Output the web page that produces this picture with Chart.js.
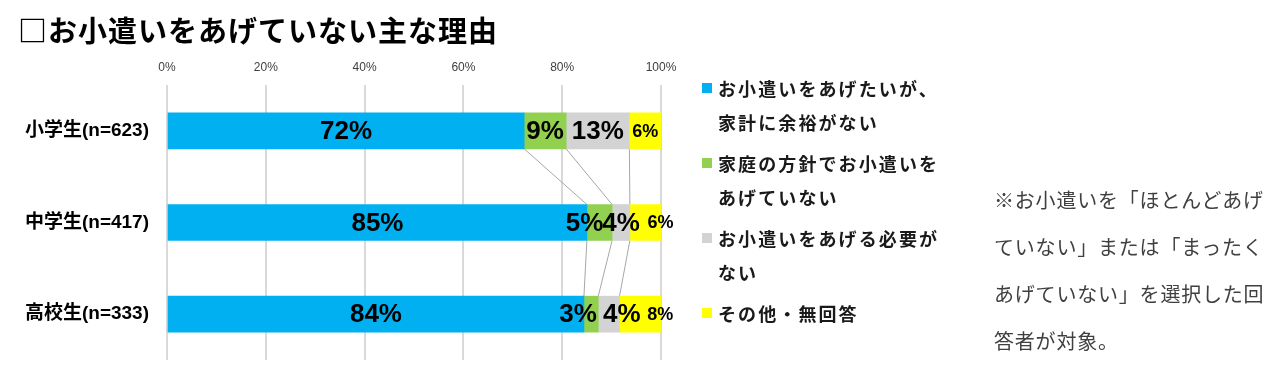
<!DOCTYPE html>
<html lang="ja">
<head>
<meta charset="utf-8">
<script src="https://cdn.jsdelivr.net/npm/chart.js@4"></script>
<style>
  html, body { margin: 0; padding: 0; background: #fff; }
  #wrap { position: relative; width: 1280px; height: 378px; overflow: hidden; }
  #c { position: absolute; left: 0; top: 0; }
  #title { position: absolute; left: 18px; top: 9px; font: bold 29px "Noto Sans CJK JP", sans-serif; letter-spacing: 1px; color: #000; white-space: nowrap; line-height: 40px; }
  #legend { position: absolute; left: 702px; top: 71px; font: bold 18px "Noto Sans CJK JP", sans-serif; letter-spacing: 2.1px; color: #1a1a1a; }
  #legend .item { position: relative; padding-left: 16px; line-height: 34px; margin-bottom: 7px; white-space: pre-line; }
  #legend .sw { position: absolute; left: 0; top: 12px; width: 10px; height: 10px; }
  #note { position: absolute; left: 994px; top: 176px; width: 290px; font: 20px "Noto Sans CJK JP", sans-serif; letter-spacing: 0.8px; line-height: 47px; color: #404040; }
</style>
</head>
<body>
<div id="wrap">
  <canvas id="c" width="1280" height="378"></canvas>
  <div id="title">□お小遣いをあげていない主な理由</div>
  <div id="legend"></div>
  <div id="note">※お小遣いを「ほとんどあげていない」または「まったくあげていない」を選択した回答者が対象。</div>
</div>
<script>
// ---- data ----
const categories = ["小学生(n=623)", "中学生(n=417)", "高校生(n=333)"];
const seriesNames = ["お小遣いをあげたいが、\n家計に余裕がない", "家庭の方針でお小遣いを\nあげていない", "お小遣いをあげる必要が\nない", "その他・無回答"];
const noMoney   = [72.3, 85.0, 84.4];
const policy    = [8.5, 5.1, 2.9];
const noNeed    = [12.8, 3.6, 4.3];
const otherNA   = [6.4, 6.3, 8.4];
const tickValues = [0, 20, 40, 60, 80, 100];

// ---- styles ----
const colors = ["#00B0F0", "#92D050", "#D3D3D3", "#FFFF00"];
const labelFont = [26, 26, 26, 18];
const labelShift = [[0, 0, 0], [0, -15, -13], [0, 0, 13], [0, 15, 20]];

const seriesLines = {
  id: "seriesLines",
  beforeDatasetsDraw(chart) {
    const ctx = chart.ctx;
    ctx.save();
    ctx.strokeStyle = "#a6a6a6";
    ctx.lineWidth = 1;
    for (let d = 0; d < chart.data.datasets.length - 1; d++) {
      const els = chart.getDatasetMeta(d).data;
      for (let i = 0; i < els.length - 1; i++) {
        const a = els[i], b = els[i + 1];
        ctx.beginPath();
        ctx.moveTo(a.x, a.y + a.height / 2);
        ctx.lineTo(b.x, b.y - b.height / 2);
        ctx.stroke();
      }
    }
    ctx.restore();
  }
};

const barLabels = {
  id: "barLabels",
  afterDatasetsDraw(chart) {
    const ctx = chart.ctx;
    ctx.save();
    ctx.textAlign = "center";
    ctx.textBaseline = "middle";
    ctx.fillStyle = "#000";
    chart.data.datasets.forEach((ds, d) => {
      ctx.font = "bold " + labelFont[d] + "px 'Liberation Sans', Arial, sans-serif";
      chart.getDatasetMeta(d).data.forEach((el, i) => {
        const cx = (el.x + el.base) / 2 + labelShift[d][i];
        ctx.fillText(Math.round(ds.data[i]) + "%", cx, el.y + 1);
      });
    });
    ctx.restore();
  }
};

const seriesData = [noMoney, policy, noNeed, otherNA];

const chart = new Chart(document.getElementById("c"), {
  type: "bar",
  data: {
    labels: categories,
    datasets: seriesData.map((arr, k) => ({
      label: seriesNames[k],
      data: arr,
      backgroundColor: colors[k],
      borderWidth: 0,
      barThickness: 36
    }))
  },
  options: {
    indexAxis: "y",
    responsive: false,
    animation: false,
    devicePixelRatio: 1,
    layout: { padding: { left: 0, top: 0, right: 619, bottom: 18 } },
    scales: {
      x: {
        stacked: true,
        position: "top",
        min: 0,
        max: 100,
        afterBuildTicks: s => { s.ticks = tickValues.map(v => ({ value: v })); },
        afterFit: s => { s.height = 85; },
        ticks: {
          callback: v => v + "%",
          color: "#404040",
          font: { family: "'Liberation Sans', Arial, sans-serif", size: 12 },
          padding: 10
        },
        grid: { color: "#d9d9d9", lineWidth: 2, drawTicks: false },
        border: { display: false }
      },
      y: {
        stacked: true,
        afterFit: s => { s.width = 167; s.paddingTop = 0; s.paddingBottom = 0; },
        ticks: {
          color: "#000",
          font: { family: "'Liberation Sans', 'Noto Sans CJK JP', sans-serif", size: 19, weight: "bold" },
          padding: 18
        },
        grid: { display: false, drawTicks: false },
        border: { display: false }
      }
    },
    plugins: {
      legend: { display: false },
      tooltip: { enabled: false }
    }
  },
  plugins: [seriesLines, barLabels]
});

// HTML legend built from the chart's datasets
const lg = document.getElementById("legend");
chart.data.datasets.forEach(ds => {
  const it = document.createElement("div");
  it.className = "item";
  const sw = document.createElement("span");
  sw.className = "sw";
  sw.style.background = ds.backgroundColor;
  it.appendChild(sw);
  it.appendChild(document.createTextNode(ds.label));
  lg.appendChild(it);
});
</script>
</body>
</html>
